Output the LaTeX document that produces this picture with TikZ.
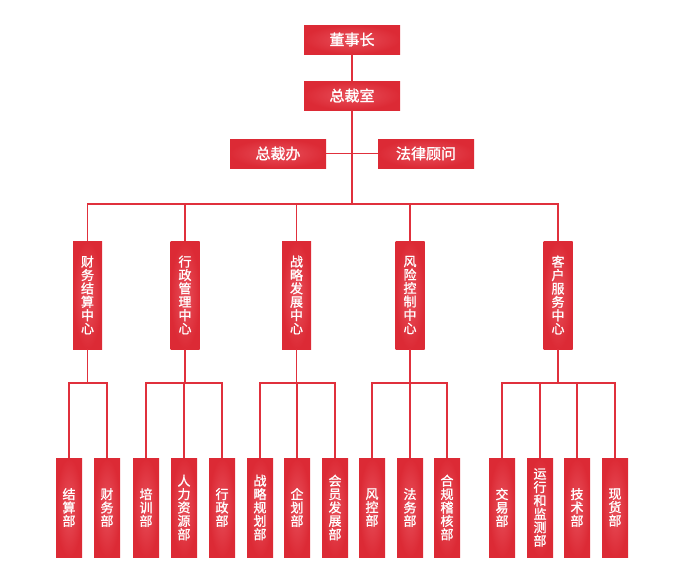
\documentclass[tikz,border=0pt]{standalone}
\usepackage{fontspec}
\newfontfamily\cjk{Noto Sans CJK SC}[FakeBold=1.2]
\definecolor{orgred}{HTML}{DC2A35}
\definecolor{orglight}{HTML}{E8505B}
\definecolor{linkred}{HTML}{E0303C}

\tikzset{
	box/.style={inner sep=0pt, text=white, inner color=orglight, outer color=orgred},
	topbox/.style={box, minimum width=96pt, minimum height=29pt, font=\cjk\fontsize{15}{15}\selectfont},
	centerbox/.style={box, minimum width=29pt, minimum height=108pt, align=center, font=\cjk\fontsize{13}{13.4}\selectfont},
	deptbox/.style={box, minimum width=26pt, minimum height=99pt, align=center, font=\cjk\fontsize{13}{13.4}\selectfont},
	link/.style={draw=linkred, line width=1.5pt}
}

\begin{document}
\begin{tikzpicture}[x=1pt,y=-1pt]
	\useasboundingbox (0,0) rectangle (677,587);

	% top
	\node[topbox] (ceo) at (352,39.5){董事长};
	\node[topbox] (office) at (352,95.5){总裁室};
	\node[topbox] (gm) at (278,153.5){总裁办};
	\node[topbox] (legal) at (426,153.5){法律顾问};
	\coordinate (hub) at (352,204);

	% centres
	\node[centerbox] (fin) at (87.5,295){财\\务\\结\\算\\中\\心};
	\node[centerbox] (adm) at (185,295){行\\政\\管\\理\\中\\心};
	\node[centerbox] (strat) at (296.5,295){战\\略\\发\\展\\中\\心};
	\node[centerbox] (risk) at (410,295){风\\险\\控\\制\\中\\心};
	\node[centerbox] (cust) at (558,295){客\\户\\服\\务\\中\\心};

	% departments
	\node[deptbox] (d1) at (69,507.5){结\\算\\部};
	\node[deptbox] (d2) at (107,507.5){财\\务\\部};
	\node[deptbox] (d3) at (146,507.5){培\\训\\部};
	\node[deptbox] (d4) at (184,507.5){人\\力\\资\\源\\部};
	\node[deptbox] (d5) at (222,507.5){行\\政\\部};
	\node[deptbox] (d6) at (260,507.5){战\\略\\规\\划\\部};
	\node[deptbox] (d7) at (297,507.5){企\\划\\部};
	\node[deptbox] (d8) at (335,507.5){会\\员\\发\\展\\部};
	\node[deptbox] (d9) at (372,507.5){风\\控\\部};
	\node[deptbox] (d10) at (410,507.5){法\\务\\部};
	\node[deptbox] (d11) at (447,507.5){合\\规\\稽\\核\\部};
	\node[deptbox] (d12) at (502,507.5){交\\易\\部};
	\node[deptbox] (d13) at (540,507.5){运\\行\\和\\监\\测\\部};
	\node[deptbox] (d14) at (577,507.5){技\\术\\部};
	\node[deptbox] (d15) at (615,507.5){现\\货\\部};

	\coordinate (jfin) at (87.5,383);
	\coordinate (jadm) at (185,383);
	\coordinate (jstrat) at (296.5,383);
	\coordinate (jrisk) at (410,383);
	\coordinate (jcust) at (558,383);

	% links
	\draw[link] (ceo) -- (office);
	\draw[link] (office) -- (hub);
	\draw[link] (gm) -- (legal);
	\foreach \c in {fin,adm,strat,risk,cust}
		\draw[link] (hub) -| (\c.north);
	\foreach \c in {fin,adm,strat,risk,cust}
		\draw[link] (\c.south) -- (j\c);
	\foreach \d in {d1,d2}
		\draw[link] (jfin) -| (\d.north);
	\foreach \d in {d3,d4,d5}
		\draw[link] (jadm) -| (\d.north);
	\foreach \d in {d6,d7,d8}
		\draw[link] (jstrat) -| (\d.north);
	\foreach \d in {d9,d10,d11}
		\draw[link] (jrisk) -| (\d.north);
	\foreach \d in {d12,d13,d14,d15}
		\draw[link] (jcust) -| (\d.north);
\end{tikzpicture}
\end{document}
